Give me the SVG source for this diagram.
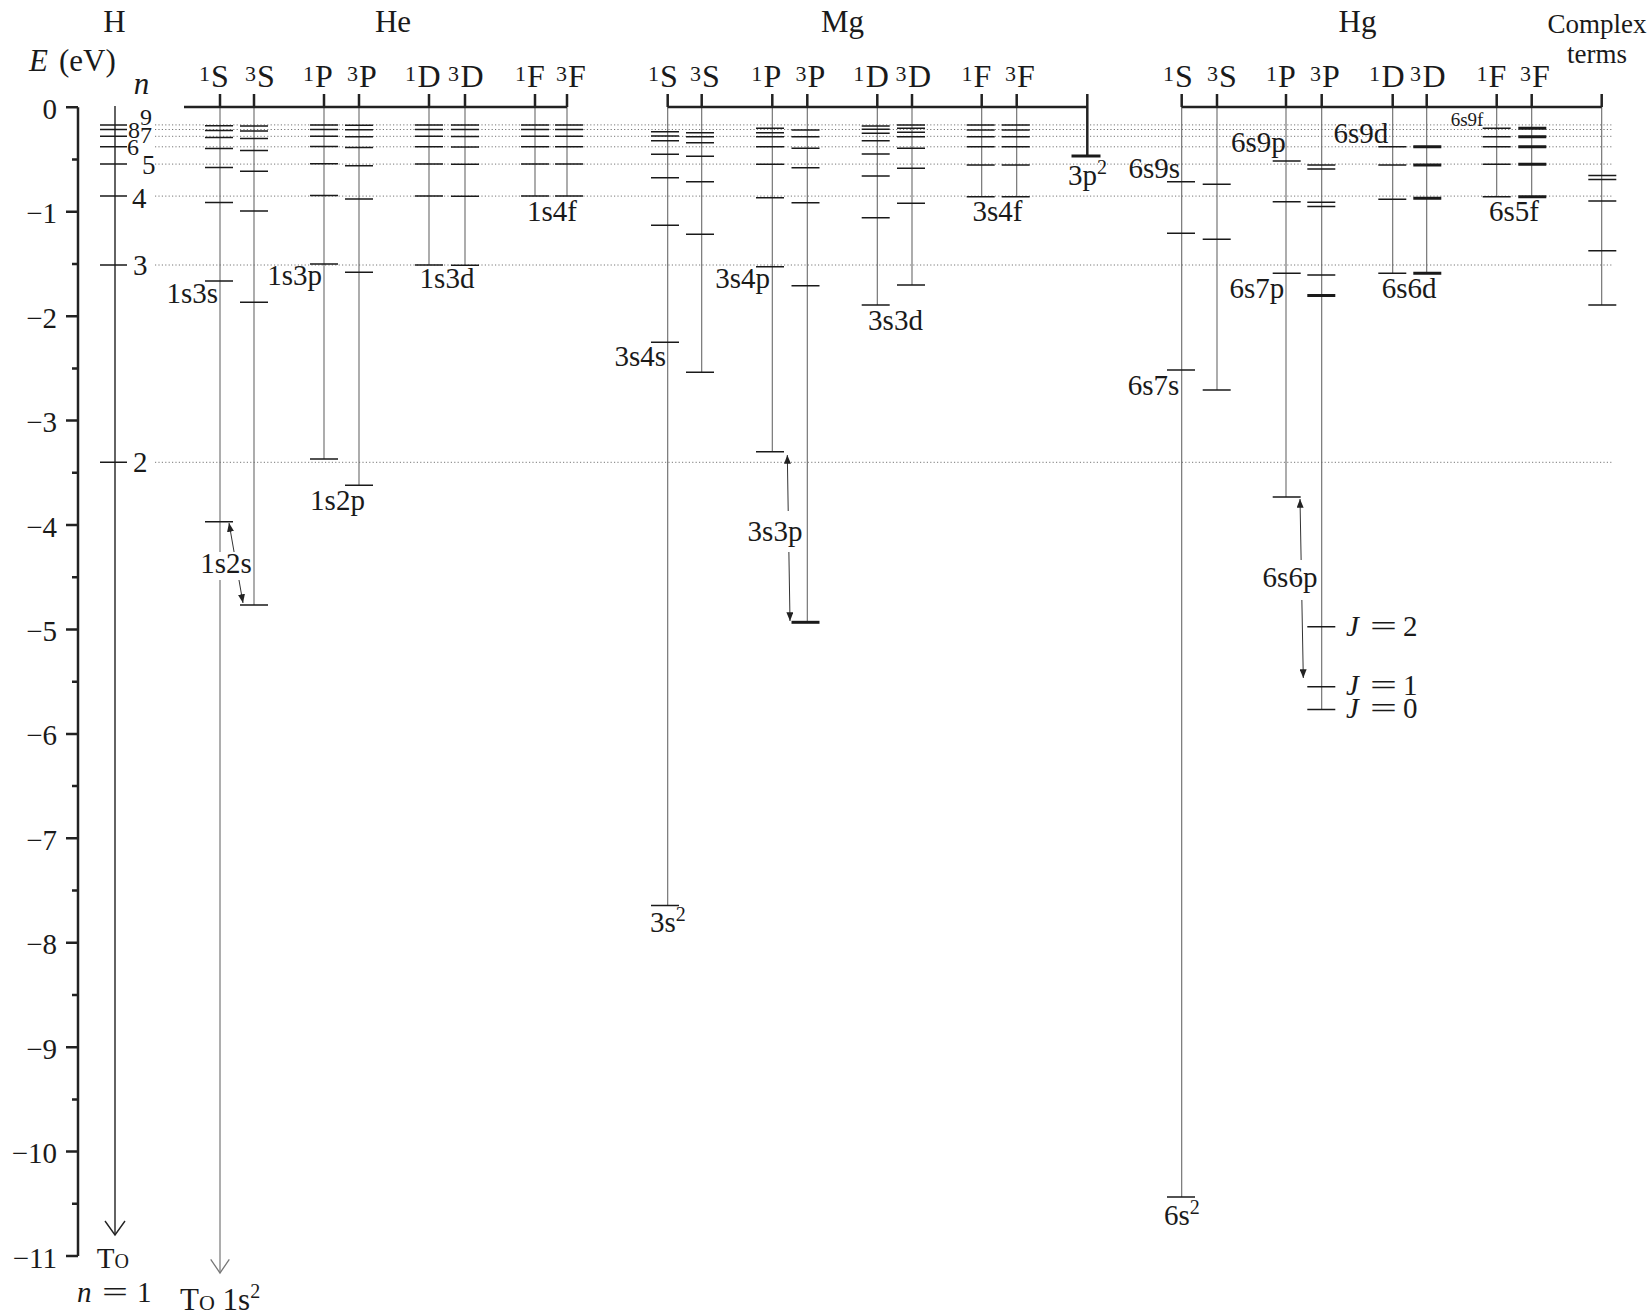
<svg xmlns="http://www.w3.org/2000/svg" width="1652" height="1316" viewBox="0 0 1652 1316" font-family="'Liberation Serif','DejaVu Serif',serif">
<style>
svg,g,text,tspan{font-family:"Liberation Serif","DejaVu Serif",serif}
text{fill:#1a1a1a}
.t31{font-size:31px}
.t29{font-size:29px}
.t24{font-size:24px}
.t27{font-size:27px}
.term{font-size:32px}
.sup{font-size:20px}
.tsup{font-size:22px}
.it{font-style:italic}
.lv{stroke:#1a1a1a;stroke-width:1.5;fill:none}
.lvt{stroke:#1a1a1a;stroke-width:3;fill:none}
.col{stroke:#6a6a6a;stroke-width:1.1;fill:none}
.br{stroke:#222;stroke-width:2.5;fill:none}
.dot{stroke:#777;stroke-width:1;stroke-dasharray:1.2 2.2;fill:none}
.ax{stroke:#222;stroke-width:2.5;fill:none}
.mid{text-anchor:middle}
.end{text-anchor:end}
</style>
<defs>
<marker id="tri" viewBox="0 0 10 8" refX="10" refY="4" markerWidth="9" markerHeight="7" markerUnits="userSpaceOnUse" orient="auto-start-reverse"><path d="M0 0L10 4L0 8z" fill="#222"/></marker>
</defs>
<rect width="1652" height="1316" fill="#fff"/>

<!-- dotted hydrogen reference lines -->
<g id="guides">
<path class="dot" d="M155 124.9H1613M155 129.5H1613M155 136.3H1613M155 146.8H1613M155 164.1H1613M155 196.1H1613M155 265H1613M155 462.3H1613"/>
</g>

<!-- energy axis -->
<g id="axis">
<path class="ax" d="M78 107.3V1256"/>
<path class="ax" d="M66 107.3H78M66 211.7H78M66 316.2H78M66 420.6H78M66 525H78M66 629.5H78M66 733.9H78M66 838.3H78M66 942.7H78M66 1047.2H78M66 1151.6H78M66 1256H78"/>
<path class="ax" d="M72 159.5H78M72 264H78M72 368.4H78M72 472.8H78M72 577.3H78M72 681.7H78M72 786.1H78M72 890.5H78M72 995H78M72 1099.4H78M72 1203.8H78"/>
<g class="t29 end">
<text x="57" y="119">0</text>
<text x="57" y="223">−1</text>
<text x="57" y="328">−2</text>
<text x="57" y="432">−3</text>
<text x="57" y="537">−4</text>
<text x="57" y="641">−5</text>
<text x="57" y="745">−6</text>
<text x="57" y="850">−7</text>
<text x="57" y="954">−8</text>
<text x="57" y="1059">−9</text>
<text x="57" y="1163">−10</text>
<text x="57" y="1268">−11</text>
</g>
<text class="t31 it" x="29" y="71">E</text>
<text class="t31" x="59" y="71">(eV)</text>
</g>

<!-- connectors: column lines and arrows -->
<g id="connectors">
<path d="M115 106V1234" stroke="#222" stroke-width="1.4" fill="none"/>
<polyline points="105,1221 115,1235 125,1221" fill="none" stroke="#222" stroke-width="1.4"/>
<path class="col" d="M220 107V1272"/>
<polyline points="210.7,1259.3 220,1273 229.3,1259.3" fill="none" stroke="#777" stroke-width="1.3"/>
<path class="col" d="M254 107V605M324 107V459M359 107V485.3M429 107V265M465 107V265.3M535 107V196M567 107V196"/>
<path class="col" d="M667.7 107V905.6M701.7 107V372.3M772.3 107V451.7M807.3 107V622.3M877.3 107V305M912 107V285M981.7 107V196.7M1016.7 107V196.7"/>
<path d="M1087.3 107V156" stroke="#222" stroke-width="2.5" fill="none"/>
<path class="col" d="M1181.7 107V1197M1217 107V390M1286 107V497M1321.7 107V709.5M1392.7 107V273.3M1426.7 107V273.3M1496.7 107V196.7M1531.7 107V196.7M1601.7 107V305"/>
<line x1="229" y1="523" x2="243" y2="603" stroke="#333" stroke-width="1" marker-start="url(#tri)" marker-end="url(#tri)"/>
<line x1="787.3" y1="455" x2="790" y2="621" stroke="#333" stroke-width="1" marker-start="url(#tri)" marker-end="url(#tri)"/>
<line x1="1300" y1="499" x2="1303.3" y2="678" stroke="#333" stroke-width="1" marker-start="url(#tri)" marker-end="url(#tri)"/>
</g>

<!-- Hydrogen -->
<g id="H">
<text class="t31 mid" x="114.5" y="32">H</text>
<text class="t31 it mid" x="141.5" y="94">n</text>
<path class="lv" d="M100 462.3h27M100 265h27M100 196.1h27M100 164.1h27M100 146.8h27M100 136.3h27M100 129.5h27M100 124.9h27"/>
<text class="t29" x="133" y="472">2</text>
<text class="t29" x="133" y="275">3</text>
<text class="t29" x="132" y="208">4</text>
<text class="t27" x="142" y="174">5</text>
<text class="t24" x="127" y="155">6</text>
<text class="t24" x="140" y="143">7</text>
<text class="t24" x="128" y="138">8</text>
<text class="t24" x="140" y="125">9</text>
<text class="t29" x="96.7" y="1268" style="font-variant:small-caps">To</text>
<text class="t29 it" x="77" y="1302">n</text>
<text class="t29" x="102" y="1302" textLength="26" lengthAdjust="spacingAndGlyphs">=</text>
<text class="t29" x="137" y="1302">1</text>
</g>

<!-- Helium -->
<g id="He">
<text class="t31 mid" x="393" y="32">He</text>
<path class="br" d="M184 107H567M220 94V107M254 94V107M324 94V107M359 94V107M429 94V107M465 94V107M535 94V107M567 94V107"/>
<g class="term">
<text class="mid" x="220" y="87">S</text><text class="tsup end" x="210" y="81">1</text>
<text class="mid" x="266" y="87">S</text><text class="tsup end" x="256" y="81">3</text>
<text class="mid" x="324" y="87">P</text><text class="tsup end" x="314" y="81">1</text>
<text class="mid" x="368" y="87">P</text><text class="tsup end" x="358" y="81">3</text>
<text class="mid" x="429" y="87">D</text><text class="tsup end" x="416" y="81">1</text>
<text class="mid" x="472" y="87">D</text><text class="tsup end" x="459" y="81">3</text>
<text class="mid" x="536" y="87">F</text><text class="tsup end" x="526" y="81">1</text>
<text class="mid" x="577" y="87">F</text><text class="tsup end" x="567" y="81">3</text>
</g>
<path class="lv" d="M205 521.8h28M205 281h28M205 202.5h28M205 167.5h28M205 148.5h28M205 137.5h28M205 130.5h28M205 125.7h28"/>
<path class="lv" d="M240 605h28M240 302.3h28M240 211h28M240 171.3h28M240 150.5h28M240 138.5h28M240 131h28M240 126h28"/>
<path class="lv" d="M310 459h28M310 264h28M310 195.5h28M310 163.7h28M310 146.5h28M310 136.3h28M310 129.5h28M310 125h28"/>
<path class="lv" d="M345 485.3h28M345 272.3h28M345 199h28M345 165.7h28M345 147.5h28M345 136.8h28M345 129.8h28M345 125.2h28"/>
<path class="lv" d="M415 265h28M415 196.1h28M415 164.1h28M415 146.8h28M415 136.3h28M415 129.5h28M415 124.9h28"/>
<path class="lv" d="M451 265.3h28M451 196.3h28M451 164.2h28M451 146.9h28M451 136.4h28M451 129.6h28M451 125h28"/>
<path class="lv" d="M521 196h28M521 164h28M521 146.8h28M521 136.3h28M521 129.5h28M521 124.9h28"/>
<path class="lv" d="M555 196h28M555 164h28M555 146.8h28M555 136.3h28M555 129.5h28M555 124.9h28"/>
<g class="t29">
<text class="end" x="218" y="303">1s3s</text>
<text class="end" x="322" y="285">1s3p</text>
<text class="mid" x="447" y="288">1s3d</text>
<text class="mid" x="552" y="221">1s4f</text>
<text class="mid" x="337.5" y="510">1s2p</text>
<rect x="201" y="552" width="50" height="28" fill="#fff"/>
<text class="mid" x="226" y="573">1s2s</text>
<text x="180" y="1310" style="font-size:31px"><tspan style="font-variant:small-caps">To</tspan> 1s<tspan class="sup" dy="-12">2</tspan></text>
</g>
</g>

<!-- Magnesium -->
<g id="Mg">
<text class="t31 mid" x="842.5" y="32">Mg</text>
<path class="br" d="M667.7 107H1087.3M667.7 94V107M701.7 94V107M772.3 94V107M807.3 94V107M877.3 94V107M912 94V107M981.7 94V107M1016.7 94V107M1087.3 94V107"/>
<g class="term">
<text class="mid" x="669" y="87">S</text><text class="tsup end" x="659" y="81">1</text>
<text class="mid" x="711" y="87">S</text><text class="tsup end" x="701" y="81">3</text>
<text class="mid" x="772.3" y="87">P</text><text class="tsup end" x="762.3" y="81">1</text>
<text class="mid" x="816.5" y="87">P</text><text class="tsup end" x="806.5" y="81">3</text>
<text class="mid" x="877.3" y="87">D</text><text class="tsup end" x="864.3" y="81">1</text>
<text class="mid" x="919.5" y="87">D</text><text class="tsup end" x="906.5" y="81">3</text>
<text class="mid" x="982.5" y="87">F</text><text class="tsup end" x="972.5" y="81">1</text>
<text class="mid" x="1026" y="87">F</text><text class="tsup end" x="1016" y="81">3</text>
</g>
<path class="lv" d="M651 131.7h28M651 136h28M651 140.7h28M651 154.3h28M651 177.7h28M651 225.3h28M651 342.3h28M651 905.6h28"/>
<path class="lv" d="M686 132.7h28M686 136.7h28M686 142.7h28M686 156.3h28M686 181.7h28M686 234.3h28M686 372.3h28"/>
<path class="lv" d="M756 128.3h28M756 132.7h28M756 136.7h28M756 146.7h28M756 164.3h28M756 197.7h28M756 266.7h28M756 451.7h28"/>
<path class="lv" d="M791.5 130h28M791.5 136.7h28M791.5 148.3h28M791.5 167.7h28M791.5 202.7h28M791.5 285.7h28"/>
<path class="lvt" d="M791.5 622.3h28"/>
<path class="lv" d="M861.7 126h28M861.7 129.3h28M861.7 133.3h28M861.7 140.7h28M861.7 154h28M861.7 176h28M861.7 217.7h28M861.7 305h28"/>
<path class="lv" d="M897 125h28M897 128.3h28M897 132.3h28M897 136.7h28M897 148.3h28M897 168.3h28M897 203.3h28M897 285h28"/>
<path class="lv" d="M966.7 125h28M966.7 130h28M966.7 136.7h28M966.7 146.7h28M966.7 165h28M966.7 196.7h28"/>
<path class="lv" d="M1001.7 125h28M1001.7 130h28M1001.7 136.7h28M1001.7 146.7h28M1001.7 165h28M1001.7 196.7h28"/>
<path class="lvt" d="M1071.5 156h29"/>
<g class="t29">
<text class="end" x="666" y="366">3s4s</text>
<text class="end" x="770" y="288">3s4p</text>
<text class="mid" x="895.5" y="330">3s3d</text>
<rect x="746" y="511" width="58" height="41" fill="#fff"/>
<text class="mid" x="775" y="541">3s3p</text>
<text class="mid" x="997.5" y="221">3s4f</text>
<text x="1068" y="185">3p<tspan class="sup" dy="-11">2</tspan></text>
<text x="650" y="932">3s<tspan class="sup" dy="-11">2</tspan></text>
</g>
</g>

<!-- Mercury -->
<g id="Hg">
<text class="t31 mid" x="1357.5" y="32">Hg</text>
<text class="t27 mid" x="1597" y="33">Complex</text>
<text class="t27 mid" x="1597" y="63">terms</text>
<path class="br" d="M1181.7 107H1601.7M1181.7 94V107M1217 94V107M1286 94V107M1321.7 94V107M1392.7 94V107M1426.7 94V107M1496.7 94V107M1531.7 94V107M1601.7 94V107"/>
<g class="term">
<text class="mid" x="1184" y="87">S</text><text class="tsup end" x="1174" y="81">1</text>
<text class="mid" x="1228" y="87">S</text><text class="tsup end" x="1218" y="81">3</text>
<text class="mid" x="1287" y="87">P</text><text class="tsup end" x="1277" y="81">1</text>
<text class="mid" x="1331" y="87">P</text><text class="tsup end" x="1321" y="81">3</text>
<text class="mid" x="1393" y="87">D</text><text class="tsup end" x="1380" y="81">1</text>
<text class="mid" x="1434" y="87">D</text><text class="tsup end" x="1421" y="81">3</text>
<text class="mid" x="1497.5" y="87">F</text><text class="tsup end" x="1487.5" y="81">1</text>
<text class="mid" x="1541" y="87">F</text><text class="tsup end" x="1531" y="81">3</text>
</g>
<path class="lv" d="M1167 181.7h28M1167 233.3h28M1167 370h28M1167 1197h28"/>
<path class="lv" d="M1202.7 184.3h28M1202.7 239.3h28M1202.7 390h28"/>
<path class="lv" d="M1272.7 161h28M1272.7 201.7h28M1272.7 273.3h28M1272.7 497h28"/>
<path class="lv" d="M1307.3 165h28M1307.3 169h28M1307.3 202.3h28M1307.3 206.5h28M1307.3 275h28M1307.3 626.7h28M1307.3 686.7h28M1307.3 709.5h28"/>
<path class="lvt" d="M1307.3 295.5h28"/>
<path class="lv" d="M1378.3 146.7h28M1378.3 165h28M1378.3 199.3h28M1378.3 273.3h28"/>
<path class="lvt" d="M1413.3 146.7h28M1413.3 165h28M1413.3 198.3h28M1413.3 273.3h28"/>
<path class="lv" d="M1482.7 128.3h28M1482.7 136.7h28M1482.7 146.7h28M1482.7 164.3h28M1482.7 196.7h28"/>
<path class="lvt" d="M1518.3 128.3h28M1518.3 136.7h28M1518.3 146.7h28M1518.3 164.3h28M1518.3 196.7h28"/>
<path class="lv" d="M1588.3 175.5h28M1588.3 179.5h28M1588.3 201h28M1588.3 250.7h28M1588.3 305h28"/>
<g class="t29">
<text class="end" x="1180" y="178">6s9s</text>
<text class="end" x="1285.7" y="152">6s9p</text>
<text class="end" x="1388.3" y="143">6s9d</text>
<text x="1450.7" y="126" style="font-size:19px">6s9f</text>
<text class="end" x="1284.3" y="298">6s7p</text>
<text x="1381.7" y="298">6s6d</text>
<text class="mid" x="1514" y="221">6s5f</text>
<text class="end" x="1179.3" y="395">6s7s</text>
<rect x="1260" y="560" width="59" height="40" fill="#fff"/>
<text class="mid" x="1290" y="587">6s6p</text>
<text class="it" x="1346" y="636">J</text><text x="1370" y="636" textLength="27" lengthAdjust="spacingAndGlyphs">=</text><text x="1403" y="636">2</text>
<text class="it" x="1346" y="695">J</text><text x="1370" y="695" textLength="27" lengthAdjust="spacingAndGlyphs">=</text><text x="1403" y="695">1</text>
<text class="it" x="1346" y="718">J</text><text x="1370" y="718" textLength="27" lengthAdjust="spacingAndGlyphs">=</text><text x="1403" y="718">0</text>
<text x="1164" y="1225">6s<tspan class="sup" dy="-11">2</tspan></text>
</g>
</g>
</svg>
